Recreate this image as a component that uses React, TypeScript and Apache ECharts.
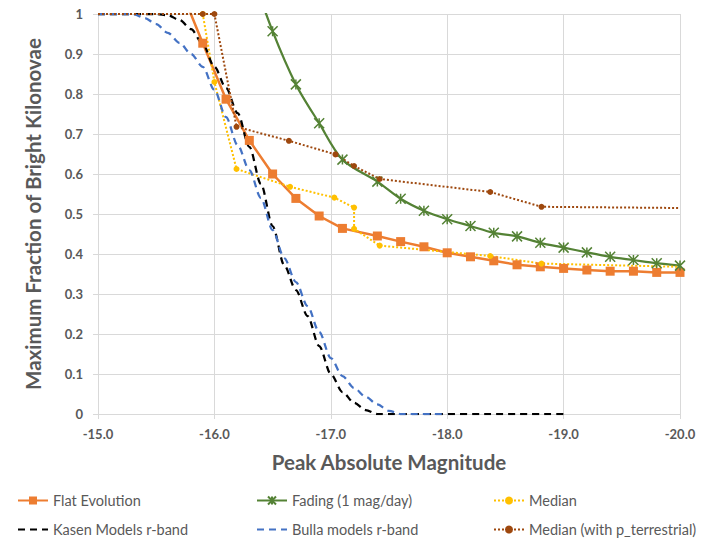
import React, { useEffect, useRef } from "react";
import * as echarts from "echarts";

// ---- Data ----
const xTicks = [-15.0, -16.0, -17.0, -18.0, -19.0, -20.0];

const flatX = [-15.7, -15.9, -16.1, -16.3, -16.5, -16.7, -16.9, -17.1, -17.4, -17.6, -17.8, -18.0, -18.2, -18.4, -18.6, -18.8, -19.0, -19.2, -19.4, -19.6, -19.8, -20.0];
const flatY = [1.07, 0.927, 0.787, 0.684, 0.6, 0.539, 0.495, 0.464, 0.445, 0.431, 0.418, 0.403, 0.393, 0.383, 0.373, 0.368, 0.364, 0.36, 0.357, 0.357, 0.354, 0.354];

const fadingX = [-16.3, -16.5, -16.7, -16.9, -17.1, -17.4, -17.6, -17.8, -18.0, -18.2, -18.4, -18.6, -18.8, -19.0, -19.2, -19.4, -19.6, -19.8, -20.0];
const fadingY = [1.12, 0.957, 0.824, 0.727, 0.636, 0.581, 0.538, 0.508, 0.487, 0.47, 0.453, 0.444, 0.428, 0.416, 0.404, 0.393, 0.385, 0.377, 0.371];

const medianX = [-15.0, -15.9, -16.0, -16.19, -16.65, -17.03, -17.2, -17.2, -17.42, -18.37, -18.81, -20.0];
const medianY = [1, 1, 0.83, 0.6125, 0.568, 0.541, 0.516, 0.463, 0.421, 0.395, 0.376, 0.368];

const kasenX = [-15.0, -15.5, -15.6, -15.7, -15.8, -15.9, -16.0, -16.1, -16.2, -16.3, -16.4, -16.5, -16.6, -16.7, -16.8, -16.9, -17.0, -17.1, -17.2, -17.3, -17.4, -19.0];
const kasenY = [1, 1, 0.997, 0.985, 0.962, 0.925, 0.868, 0.815, 0.752, 0.668, 0.575, 0.47, 0.372, 0.31, 0.245, 0.17, 0.1, 0.055, 0.028, 0.01, 0, 0];

const bullaX = [-15.0, -15.3, -15.4, -15.5, -15.6, -15.7, -15.8, -15.9, -16.0, -16.1, -16.2, -16.3, -16.4, -16.5, -16.6, -16.7, -16.8, -16.9, -17.0, -17.1, -17.2, -17.3, -17.4, -17.5, -17.6, -18.0];
const bullaY = [1, 1, 0.99, 0.975, 0.953, 0.928, 0.9, 0.868, 0.81, 0.742, 0.672, 0.61, 0.54, 0.46, 0.39, 0.33, 0.27, 0.205, 0.14, 0.095, 0.065, 0.043, 0.024, 0.008, 0, 0];

const ptermX = [-15.0, -15.9, -16.0, -16.19, -16.64, -17.04, -17.2, -17.42, -18.37, -18.81, -20.0];
const ptermY = [1, 1, 1, 0.718, 0.683, 0.649, 0.62, 0.5875, 0.555, 0.518, 0.515];

const FONT = 'Lato, "Noto Sans", "DejaVu Sans", sans-serif';
const TXT = "#595959";
const GRID = "#d9d9d9";

// Points lying outside the plot range (clipped) or at the ends carry no marker
function pts(xs: number[], ys: number[], noMarker: number[] = []) {
  return xs.map((x, i) =>
    noMarker.includes(i) || ys[i] > 1
      ? { value: [x, ys[i]], symbol: "none" }
      : { value: [x, ys[i]] }
  );
}

const ASTER = "path://M0,0L10,10M10,0L0,10M5,0L5,10";

export default function App() {
  const ref = useRef<HTMLDivElement>(null);
  useEffect(() => {
    document.body.style.margin = "0";
    const chart = echarts.init(ref.current as HTMLDivElement, null, { renderer: "svg" });
    const legendPos = [
      { name: "Flat Evolution", left: 17, top: 493, noSym: false },
      { name: "Fading (1 mag/day)", left: 256, top: 493, noSym: false },
      { name: "Median", left: 493, top: 493, noSym: false },
      { name: "Kasen Models r-band", left: 17, top: 522, noSym: true },
      { name: "Bulla models r-band", left: 256, top: 522, noSym: true },
      { name: "Median (with p_terrestrial)", left: 493, top: 522, noSym: false },
    ];
    const option: any = {
      animation: false,
      textStyle: { fontFamily: FONT },
      grid: { left: 98, right: 25, top: 14, bottom: 132, containLabel: false },
      legend: legendPos.map((l) => {
        const lg: any = {
          data: [l.name],
          left: l.left,
          top: l.top,
          padding: 0,
          itemWidth: 30,
          itemHeight: 10,
          itemGap: 0,
          selectedMode: false,
          textStyle: { fontFamily: FONT, fontSize: 14.5, color: TXT },
        };
        if (l.noSym) lg.itemStyle = { opacity: 0 };
        return lg;
      }),
      xAxis: {
        type: "value",
        min: xTicks[xTicks.length - 1],
        max: xTicks[0],
        interval: 1,
        inverse: true,
        axisLine: { onZero: false, lineStyle: { color: GRID, width: 1 } },
        axisTick: { show: true, length: 5, lineStyle: { color: GRID } },
        splitLine: { show: true, lineStyle: { color: GRID, width: 1 } },
        axisLabel: {
          formatter: (v: number) => v.toFixed(1),
          color: TXT,
          fontSize: 13,
          fontWeight: "bold",
          fontFamily: FONT,
          margin: 13,
        },
        name: "Peak Absolute Magnitude",
        nameLocation: "middle",
        nameGap: 37,
        nameTextStyle: { color: TXT, fontSize: 20.5, fontWeight: "bold", fontFamily: FONT },
      },
      yAxis: {
        type: "value",
        min: 0,
        max: 1,
        interval: 0.1,
        axisLine: { show: true, onZero: false, lineStyle: { color: GRID, width: 1 } },
        axisTick: { show: true, length: 5, lineStyle: { color: GRID } },
        splitLine: { show: true, lineStyle: { color: GRID, width: 1 } },
        axisLabel: {
          formatter: (v: number) => String(parseFloat(v.toFixed(1))),
          color: TXT,
          fontSize: 13,
          fontWeight: "bold",
          fontFamily: FONT,
          margin: 15,
        },
        name: "Maximum Fraction of Bright Kilonovae",
        nameLocation: "middle",
        nameGap: 55,
        nameTextStyle: { color: TXT, fontSize: 20.5, fontWeight: "bold", fontFamily: FONT },
      },
      series: [
        {
          name: "Flat Evolution",
          type: "line",
          data: pts(flatX, flatY),
          symbol: "rect",
          symbolSize: 9,
          itemStyle: { color: "#ED7D31" },
          lineStyle: { color: "#ED7D31", width: 2.5 },
          clip: true,
        },
        {
          name: "Fading (1 mag/day)",
          type: "line",
          data: pts(fadingX, fadingY),
          smooth: 0.3,
          symbol: ASTER,
          symbolSize: 10,
          itemStyle: { color: "#548235", borderColor: "#548235", borderWidth: 1.5 },
          lineStyle: { color: "#548235", width: 2.25 },
          clip: true,
        },
        {
          name: "Median",
          type: "line",
          data: pts(medianX, medianY, [0, medianX.length - 1]),
          symbol: "circle",
          symbolSize: 6,
          itemStyle: { color: "#FFC000" },
          lineStyle: { color: "#FFC000", width: 2, type: [2, 2] },
          clip: true,
        },
        {
          name: "Kasen Models r-band",
          type: "line",
          data: pts(kasenX, kasenY),
          smooth: 0.3,
          smoothMonotone: "x",
          symbol: "none",
          itemStyle: { color: "#000000" },
          lineStyle: { color: "#000000", width: 2.25, type: [7, 5] },
          clip: true,
        },
        {
          name: "Bulla models r-band",
          type: "line",
          data: pts(bullaX, bullaY),
          smooth: 0.3,
          smoothMonotone: "x",
          symbol: "none",
          itemStyle: { color: "#4472C4" },
          lineStyle: { color: "#4472C4", width: 2.25, type: [7, 5] },
          clip: true,
        },
        {
          name: "Median (with p_terrestrial)",
          type: "line",
          data: pts(ptermX, ptermY, [0, ptermX.length - 1]),
          symbol: "circle",
          symbolSize: 6,
          itemStyle: { color: "#9E480E" },
          lineStyle: { color: "#9E480E", width: 2, type: [2, 2] },
          clip: true,
        },
      ],
    };
    chart.setOption(option);
    return () => chart.dispose();
  }, []);
  return <div ref={ref} style={{ width: 705, height: 546 }} />;
}
